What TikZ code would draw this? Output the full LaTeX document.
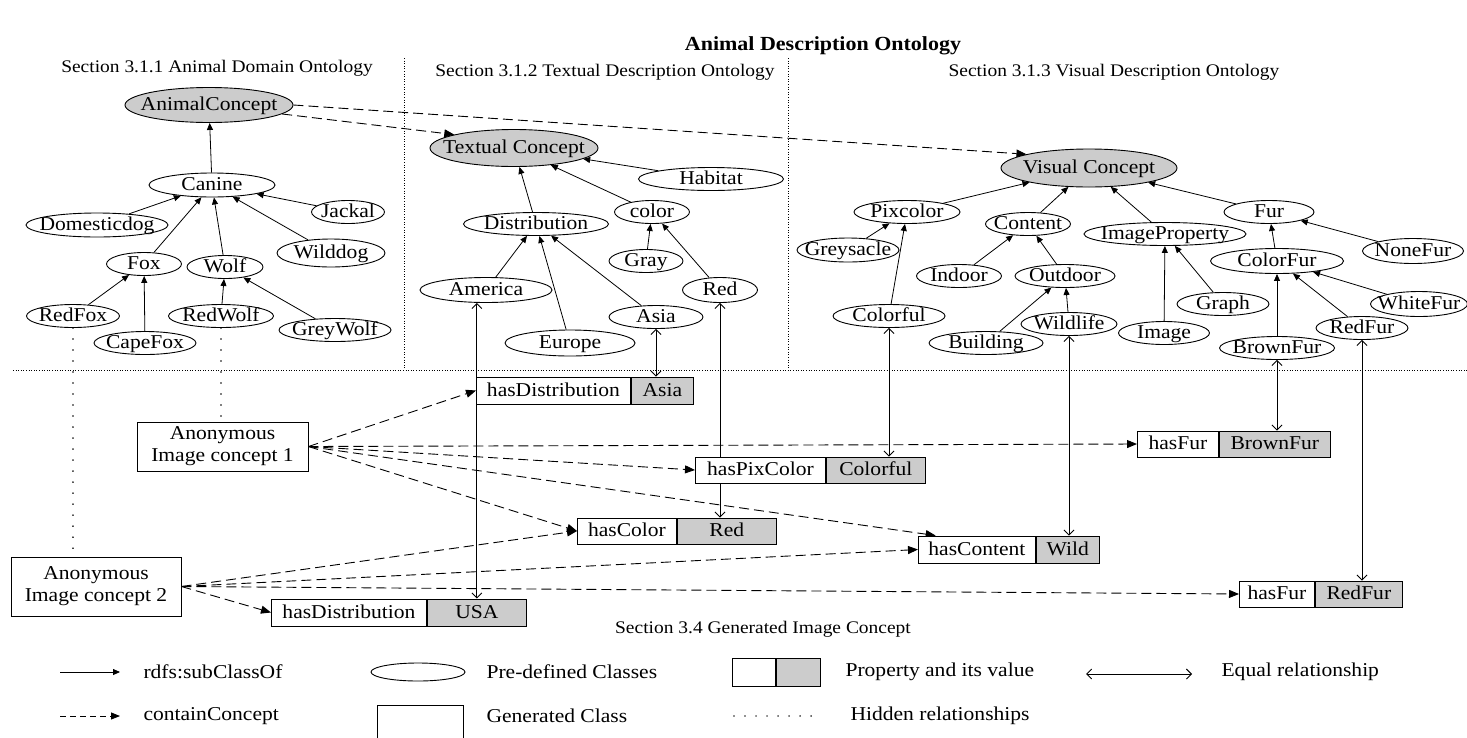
\documentclass[tikz,border=0pt]{standalone}
\usepackage{fontspec}
\setmainfont{Liberation Serif}[FakeStretch=1.1]
\usetikzlibrary{shapes.geometric,arrows.meta,backgrounds,calc}
\definecolor{conceptgray}{RGB}{204,204,204}
% centre a label over its shape without letting it widen the shape
\newcommand\ct[1]{\makebox[0pt]{#1}}

\begin{document}
\begin{tikzpicture}[x=1pt,y=-1pt,
  font=\fontsize{19.6}{22}\selectfont,
  ell/.style={ellipse, draw, fill=white, line width=0.9pt, inner sep=0pt,
    minimum width=#1pt, minimum height=23pt, text height=13pt, text depth=2pt},
  keybox/.style={rectangle, draw, fill=white, line width=0.9pt, inner sep=0pt,
    minimum width=#1pt, minimum height=27pt, text height=13pt, text depth=2pt, anchor=west},
  valbox/.style={keybox=#1, fill=conceptgray},
  genbox/.style={rectangle, draw, fill=white, line width=0.9pt, inner sep=0pt, align=center},
  sect/.style={font=\fontsize{17.7}{21}\selectfont},
  legtext/.style={anchor=west},
  sub/.style={line width=0.8pt, -{Triangle[length=7pt,width=6pt]}},
  dsh/.style={line width=0.9pt, dash pattern=on 10pt off 5pt, -{Triangle[length=10pt,width=8pt]}},
  eq/.style={line width=0.9pt, {Straight Barb[length=5pt,width=10pt]}-{Straight Barb[length=5pt,width=10pt]}},
  hid/.style={line width=1.6pt, line cap=round, dash pattern=on 0.01pt off 11pt},
  sep/.style={line width=0.7pt, dash pattern=on 1pt off 1.6pt},
]
\useasboundingbox (0,0) rectangle (1467,737);

% ---------------- titles ----------------
\node[font=\bfseries\fontsize{20}{24}\selectfont] (title) at (823,46) {Animal Description Ontology};
\node[sect] (sec1) at (217,68) {Section 3.1.1 Animal Domain Ontology};
\node[sect] (sec2) at (605,72) {Section 3.1.2 Textual Description Ontology};
\node[sect] (sec3) at (1114,72) {Section 3.1.3 Visual Description Ontology};
\node[sect] (sec4) at (763,629) {Section 3.4 Generated Image Concept};

% ---------------- separators ----------------
\coordinate (sepL) at (13,370);
\coordinate (sepR) at (1467,370);
\coordinate (s1t) at (404,58);
\coordinate (s1b) at (404,370);
\coordinate (s2t) at (788,58);
\coordinate (s2b) at (788,370);
\draw[sep] (sepL) -- (sepR);
\draw[sep] (s1t) -- (s1b);
\draw[sep] (s2t) -- (s2b);

% ---------------- animal domain ontology ----------------
\node[ell=168, fill=conceptgray, minimum height=35pt] (AC) at (209,105) {\ct{AnimalConcept}};
\node[ell=126, minimum height=24pt] (Canine) at (212,185) {\ct{Canine}};
\node[ell=142, minimum height=24pt] (Domesticdog) at (97,225) {\ct{Domesticdog}};
\node[ell=73] (Jackal) at (348,212) {\ct{Jackal}};
\node[ell=108, minimum height=28pt] (Wilddog) at (331,253) {\ct{Wilddog}};
\node[ell=75] (Fox) at (144,264) {\ct{Fox}};
\node[ell=76] (Wolf) at (225,267) {\ct{Wolf}};
\node[ell=93] (RedFox) at (73,316) {\ct{RedFox}};
\node[ell=102] (CapeFox) at (145,343) {\ct{CapeFox}};
\node[ell=105] (RedWolf) at (221,316) {\ct{RedWolf}};
\node[ell=112] (GreyWolf) at (335,330) {\ct{GreyWolf}};

% ---------------- textual description ontology ----------------
\node[ell=168, fill=conceptgray, minimum height=37pt] (TC) at (514,148) {\ct{Textual Concept}};
\node[ell=145] (Habitat) at (711,179) {\ct{Habitat}};
\node[ell=75] (color) at (652,212) {\ct{color}};
\node[ell=145] (Distribution) at (536,224) {\ct{Distribution}};
\node[ell=74] (Gray) at (646,261) {\ct{Gray}};
\node[ell=132, minimum height=25pt] (America) at (486,290) {\ct{America}};
\node[ell=75, minimum height=25pt] (Red) at (720,290) {\ct{Red}};
\node[ell=94] (Asia) at (656,317) {\ct{Asia}};
\node[ell=130, minimum height=26pt] (Europe) at (570,343) {\ct{Europe}};

% ---------------- visual description ontology ----------------
\node[ell=176, fill=conceptgray, minimum height=38pt] (VC) at (1089,168) {\ct{Visual Concept}};
\node[ell=106] (Pixcolor) at (907,212) {\ct{Pixcolor}};
\node[ell=102, minimum height=24pt] (Greysacle) at (848,250) {\ct{Greysacle}};
\node[ell=85] (Content) at (1028,224) {\ct{Content}};
\node[ell=162] (ImageProperty) at (1165,234) {\ct{ImageProperty}};
\node[ell=90] (Fur) at (1269,212) {\ct{Fur}};
\node[ell=101, minimum height=25pt] (NoneFur) at (1413,251) {\ct{NoneFur}};
\node[ell=133, minimum height=25pt] (ColorFur) at (1277,261) {\ct{ColorFur}};
\node[ell=85] (Indoor) at (959,276) {\ct{Indoor}};
\node[ell=100] (Outdoor) at (1065,276) {\ct{Outdoor}};
\node[ell=92] (Graph) at (1223,304) {\ct{Graph}};
\node[ell=97, minimum height=25pt] (WhiteFur) at (1419,304) {\ct{WhiteFur}};
\node[ell=112] (Colorful) at (889,316) {\ct{Colorful}};
\node[ell=96] (Wildlife) at (1069,324) {\ct{Wildlife}};
\node[ell=114] (Building) at (986,343) {\ct{Building}};
\node[ell=91] (Image) at (1164,333) {\ct{Image}};
\node[ell=92] (RedFur) at (1362,328) {\ct{RedFur}};
\node[ell=115] (BrownFur) at (1277,348) {\ct{BrownFur}};

% ---------------- generated image concepts ----------------
\node[genbox, minimum width=171pt, minimum height=49pt] (Anon1) at (222.5,446.5) {Anonymous\\Image concept 1};
\node[genbox, minimum width=170pt, minimum height=59pt] (Anon2) at (96,586.5) {Anonymous\\Image concept 2};

\node[keybox=154] (pAsia) at (476,390.5) {hasDistribution};
\node[valbox=62] (vAsia) at (pAsia.east) {Asia};
\node[keybox=155] (pUSA) at (271,612.5) {hasDistribution};
\node[valbox=99] (vUSA) at (pUSA.east) {USA};
\node[keybox=130, minimum height=26pt] (pPix) at (695,470) {hasPixColor};
\node[valbox=99, minimum height=26pt] (vPix) at (pPix.east) {Colorful};
\node[keybox=99, minimum height=26pt] (pColor) at (577,531) {hasColor};
\node[valbox=99, minimum height=26pt] (vColor) at (pColor.east) {Red};
\node[keybox=117] (pContent) at (918,549.5) {hasContent};
\node[valbox=63] (vWild) at (pContent.east) {Wild};
\node[keybox=81, minimum height=26pt] (pFurB) at (1137,444) {hasFur};
\node[valbox=111, minimum height=26pt] (vFurB) at (pFurB.east) {BrownFur};
\node[keybox=75, minimum height=26pt] (pFurR) at (1239,594) {hasFur};
\node[valbox=87, minimum height=26pt] (vFurR) at (pFurR.east) {RedFur};

% ---------------- legend ----------------
\coordinate (lsubA) at (60,672);
\coordinate (lsubB) at (120,672);
\coordinate (ldshA) at (60,716);
\coordinate (ldshB) at (120,716);
\coordinate (leqA) at (1086,674);
\coordinate (leqB) at (1192,674);
\coordinate (lhidA) at (734,716);
\coordinate (lhidB) at (812,716);
\draw[sub] (lsubA) -- (lsubB);
\draw[line width=0.9pt, dash pattern=on 6pt off 4pt, -{Triangle[length=9pt,width=7pt]}] (ldshA) -- (ldshB);
\draw[eq] (leqA) -- (leqB);
\draw[line width=1.4pt, line cap=round, dash pattern=on 0.01pt off 11pt] (lhidA) -- (lhidB);
\node[legtext] (lsubT) at (140,672) {rdfs:subClassOf};
\node[legtext] (ldshT) at (140,716) {containConcept};
\node[ellipse, draw, line width=0.9pt, inner sep=0pt, minimum width=94pt, minimum height=18pt] (lell) at (418,672) {};
\node[legtext] (lellT) at (483,672) {Pre-defined Classes};
\node[rectangle, draw, line width=0.9pt, inner sep=0pt, minimum width=86pt, minimum height=40pt, anchor=north] (lgen) at (420,705) {};
\node[legtext] (lgenT) at (483,716) {Generated Class};
\node[rectangle, draw, line width=0.9pt, inner sep=0pt, minimum width=43pt, minimum height=28pt, anchor=west] (lkey) at (732,672) {};
\node[rectangle, draw, fill=conceptgray, line width=0.9pt, inner sep=0pt, minimum width=44pt, minimum height=28pt, anchor=west] (lval) at (lkey.east) {};
\node[legtext] (lpropT) at (842,672) {Property and its value};
\node[legtext] (leqT) at (1218,672) {Equal relationship};
\node[legtext] (lhidT) at (847,716) {Hidden relationships};

% ---------------- connectors ----------------
\begin{pgfonlayer}{background}
  % subclass relations
  \draw[sub] (Canine) -- (AC);
  \draw[sub] (Domesticdog) -- (Canine);
  \draw[sub] (Jackal) -- (Canine);
  \draw[sub] (Wilddog) -- (Canine);
  \draw[sub] (Fox) -- (Canine);
  \draw[sub] (Wolf) -- (Canine);
  \draw[sub] (RedFox) -- (Fox);
  \draw[sub] (CapeFox) -- (Fox);
  \draw[sub] (RedWolf) -- (Wolf);
  \draw[sub] (GreyWolf) -- (Wolf);

  \draw[sub] (Distribution) -- (TC);
  \draw[sub] (color) -- (TC);
  \draw[sub] (Habitat) -- (TC);
  \draw[sub] (Gray) -- (color);
  \draw[sub] (Red) -- (color);
  \draw[sub] (America) -- (Distribution);
  \draw[sub] (Europe) -- (Distribution);
  \draw[sub] (Asia) -- (Distribution);

  \draw[sub] (Pixcolor) -- (VC);
  \draw[sub] (Content) -- (VC);
  \draw[sub] (ImageProperty) -- (VC);
  \draw[sub] (Fur) -- (VC);
  \draw[sub] (Greysacle) -- (Pixcolor);
  \draw[sub] (Colorful) -- (Pixcolor);
  \draw[sub] (Indoor) -- (Content);
  \draw[sub] (Outdoor) -- (Content);
  \draw[sub] (Building) -- (Outdoor);
  \draw[sub] (Wildlife) -- (Outdoor);
  \draw[sub] (Image) -- (ImageProperty);
  \draw[sub] (Graph) -- (ImageProperty);
  \draw[sub] (ColorFur) -- (Fur);
  \draw[sub] (NoneFur) -- (Fur);
  \draw[sub] (BrownFur) -- (ColorFur);
  \draw[sub] (RedFur) -- (ColorFur);
  \draw[sub] (WhiteFur) -- (ColorFur);

  % concept containment
  \draw[dsh] (AC.-7) -- (TC.north west);
  \draw[dsh] (AC.east) -- (VC.north west);
  \draw[dsh] (Anon1.east) -- (pAsia.west);
  \draw[dsh] (Anon1.east) -- (pFurB.west);
  \draw[dsh] (Anon1.east) -- (pPix.west);
  \draw[dsh] (Anon1.east) -- ($(pContent.north west)!0.15!(pContent.north east)$);
  \draw[dsh] (Anon1.east) -- (pColor.west);
  \draw[dsh] (Anon2.east) -- (pColor.west);
  \draw[dsh] (Anon2.east) -- (pContent.west);
  \draw[dsh] (Anon2.east) -- (pFurR.west);
  \draw[dsh] (Anon2.east) -- (pUSA.west);

  % equal relationships
  \draw[eq] (vUSA.north |- America.south) -- (vUSA.north);
  \draw[eq] (Asia.south) -- (Asia.south |- vAsia.north);
  \draw[eq] (Red.south) -- (Red.south |- vColor.north);
  \draw[eq] (Colorful.south) -- (Colorful.south |- vPix.north);
  \draw[eq] (Wildlife.south) -- (Wildlife.south |- vWild.north);
  \draw[eq] (BrownFur.south) -- (BrownFur.south |- vFurB.north);
  \draw[eq] (RedFur.south) -- (RedFur.south |- vFurR.north);

  % hidden relationships
  \draw[hid] (RedFox.south) -- (RedFox.south |- Anon2.north);
  \draw[hid] (RedWolf.south) -- (RedWolf.south |- Anon1.north);
\end{pgfonlayer}
\end{tikzpicture}
\end{document}
